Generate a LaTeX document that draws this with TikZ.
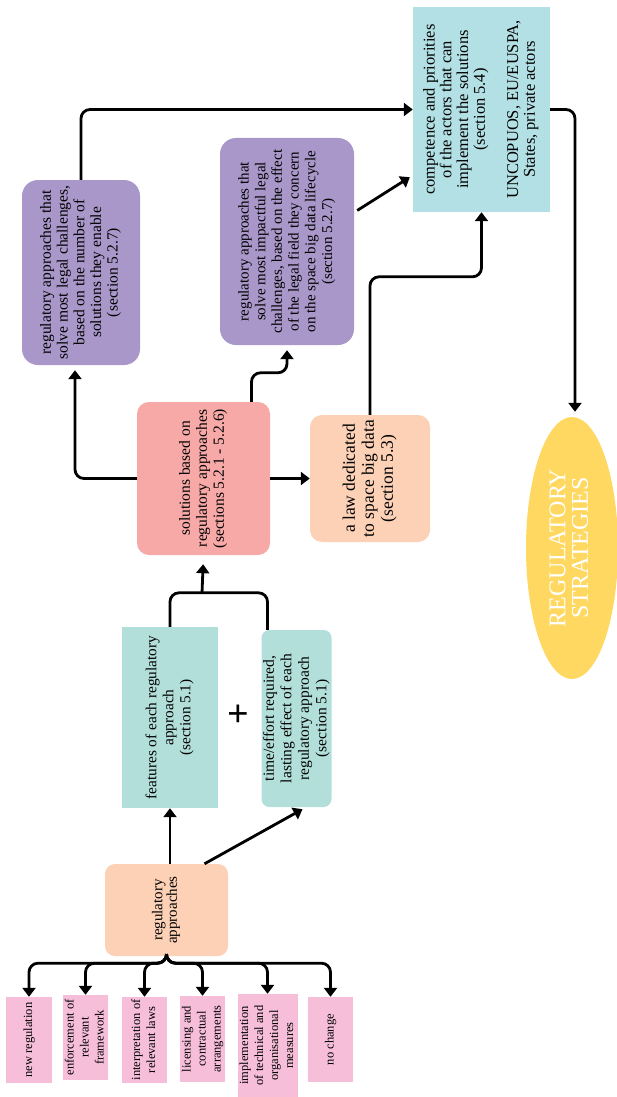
\documentclass[tikz,border=0pt]{standalone}
\usepackage{fontspec}
\setmainfont{Liberation Serif}
\usepackage{graphicx}
\usetikzlibrary{arrows.meta, positioning, calc, shapes.geometric}
\definecolor{regpink}{HTML}{F6BED9}
\definecolor{regpeach}{HTML}{FCD1B6}
\definecolor{regteal}{HTML}{B2DFD9}
\definecolor{regsalmon}{HTML}{F7A9A8}
\definecolor{regpurple}{HTML}{A897C8}
\definecolor{regcyan}{HTML}{B3E0E4}
\definecolor{regyellow}{HTML}{FFD862}
\newcommand{\rottext}[1]{\rotatebox{90}{\begin{tabular}{@{}c@{}}#1\end{tabular}}}

\begin{document}
\begin{tikzpicture}[x=1pt, y=-1pt,
    box/.style={inner sep=0pt, align=center},
    optbox/.style={box, fill=regpink, font=\fontsize{12.5}{15}\selectfont},
    arr/.style={line width=2.8pt, rounded corners=9pt, -{Triangle[length=9pt, width=13pt]}},
    link/.style={line width=2.8pt, rounded corners=9pt}]
  \useasboundingbox (0,0) rectangle (617,1097);
  \fill[white] (0,0) rectangle (617,1097);

  \node[optbox, minimum width=46pt, minimum height=86pt] (opt1) at (29,1040) {\rottext{new regulation}};
  \node[optbox, minimum width=45pt, minimum height=85pt] (opt2) at (85.5,1037.5) {\rottext{enforcement of\\relevant\\framework}};
  \node[optbox, minimum width=45pt, minimum height=86pt] (opt3) at (144.5,1040) {\rottext{interpretation of\\relevant laws}};
  \node[optbox, minimum width=45pt, minimum height=86pt] (opt4) at (202.5,1039) {\rottext{licensing and\\contractual\\arrangements}};
  \node[optbox, minimum width=57pt, minimum height=103pt] (opt5) at (267.5,1045.5) {\rottext{implementation\\of technical and\\organisational\\measures}};
  \node[optbox, minimum width=45pt, minimum height=85pt] (opt6) at (330.5,1039.5) {\rottext{no change}};

  \node[box, fill=regpeach, rounded corners=10pt, minimum width=123pt, minimum height=92pt,
        font=\fontsize{15}{14}\selectfont] (regap) at (166.5,910) {\rottext{regulatory\\approaches}};

  \node[box, fill=regteal, minimum width=96pt, minimum height=181pt,
        font=\fontsize{15.3}{17}\selectfont] (feat) at (170,717.5) {\rottext{features of each regulatory\\approach\\(section 5.1)}};
  \node[box, fill=regteal, rounded corners=8pt, minimum width=67pt, minimum height=177pt,
        font=\fontsize{15.5}{17.5}\selectfont] (time) at (296.5,718.5) {\rottext{time/effort required,\\lasting effect of each\\regulatory approach\\(section 5.1)}};
  \node[font=\fontsize{38}{38}\selectfont\bfseries] (plus) at (238,716) {+};

  \node[box, fill=regsalmon, rounded corners=12pt, minimum width=133pt, minimum height=153pt,
        font=\fontsize{15.5}{17}\selectfont] (solu) at (203.5,478.5) {\rottext{solutions based on\\regulatory approaches\\(sections 5.2.1 - 5.2.6)}};
  \node[box, fill=regpeach, rounded corners=12pt, minimum width=120pt, minimum height=127pt,
        font=\fontsize{17.5}{19}\selectfont] (law) at (370,478.5) {\rottext{a law dedicated\\to space big data\\(section 5.3)}};

  \node[box, fill=regpurple, rounded corners=16pt, minimum width=118pt, minimum height=185pt,
        font=\fontsize{15.5}{16.7}\selectfont] (apprA) at (81,272.5) {\rottext{regulatory approaches that\\solve most legal challenges,\\based on the number of\\solutions they enable\\(section 5.2.7)}};
  \node[box, fill=regpurple, rounded corners=16pt, minimum width=134pt, minimum height=207pt,
        font=\fontsize{15}{16.7}\selectfont] (apprB) at (287,241.5) {\rottext{regulatory approaches that\\solve most impactful legal\\challenges, based on the effect\\of the legal field they concern\\on the space big data lifecycle\\(section 5.2.7)}};

  \node[box, fill=regcyan, minimum width=137pt, minimum height=205pt,
        font=\fontsize{16.5}{16.7}\selectfont] (acts) at (481.5,109.5) {\rottext{competence and priorities\\of the actors that can\\implement the solutions\\(section 5.4)\\[16.7pt]UNCOPUOS, EU/EUSPA,\\States, private actors}};

  \node[ellipse, fill=regyellow, text=white, inner sep=0pt, minimum width=92pt, minimum height=262pt,
        font=\fontsize{24}{22}\selectfont] (strat) at (572,548) {\rottext{REGULATORY\\STRATEGIES}};

  \foreach \opt in {opt1, opt2, opt3, opt4, opt5, opt6}
    \draw[arr] (regap.south) -- ++(0,7) -| (\opt.north);

  \draw[arr] (feat.south |- regap.north) -- (feat.south);
  \draw[arr] ($(regap.north)+(38,0)$) -- ($(time.south)+(6,2)$);

  \coordinate (join) at (202,593);
  \draw[link] (feat.north) -- ++(0,-34) -| ($(time.north)+(-29,0)$);
  \draw[arr, shorten >=9pt] (join) -- (solu.south);

  \draw[arr] (solu.east) -- (law.west);
  \draw[arr, shorten >=5pt] (solu.west) -| ($(apprA.south)+(-6,0)$);
  \draw[arr, shorten >=5pt] ($(solu.north)+(48,0)$) -- ++(0,-29) -| (apprB.south);

  \draw[arr] (law.north) -- ++(0,-138) -| (acts.south);
  \draw[arr] (apprA.north) |- (acts.west);
  \draw[arr] ($(apprB.east)+(3,-31)$) -- ($(acts.south west)+(-3,-35)$);
  \draw[arr, shorten >=5pt] (acts.east) -| ($(strat.north)+(3,0)$);
\end{tikzpicture}
\end{document}
